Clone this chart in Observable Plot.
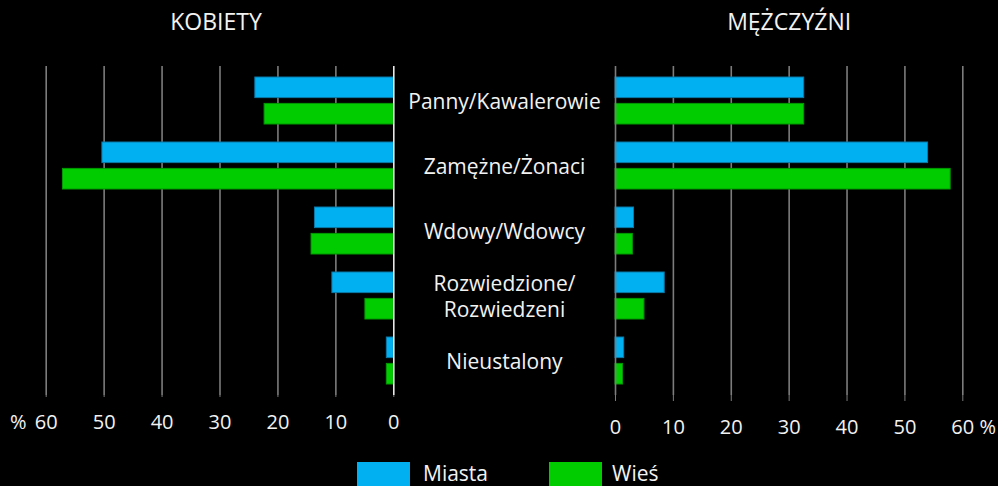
<!DOCTYPE html>
<html>
<head>
<meta charset="utf-8">
<script src="https://cdn.jsdelivr.net/npm/d3@7"></script>
<script src="https://cdn.jsdelivr.net/npm/@observablehq/plot@0.6"></script>
<style>
  html, body { margin: 0; padding: 0; background: #000; }
  #wrap { position: relative; width: 998px; height: 486px; background: #000; overflow: hidden; font-family: "Open Sans", sans-serif; }
  #wrap svg { position: absolute; left: 0; top: 0; }
  .legend { position: absolute; top: 462px; left: 0; width: 998px; height: 30px; }
  .sw { position: absolute; top: 0; width: 53px; height: 30px; }
  .lt { position: absolute; top: -2px; font-size: 21px; color: #f2f2f2; line-height: 26px; }
</style>
</head>
<body>
<div id="wrap"></div>
<script>
const categories = ["Panny/Kawalerowie", "Zamężne/Żonaci", "Wdowy/Wdowcy", "Rozwiedzione/\nRozwiedzeni", "Nieustalony"];
const seriesNames = ["Miasta", "Wieś"];
const seriesColors = ["#00b0f0", "#00cc00"];
const seriesStrokes = ["#0b79a8", "#009a00"];
const womenMiasta = [23.9, 50.3, 13.6, 10.6, 1.2];
const womenWies = [22.3, 57.1, 14.2, 4.9, 1.2];
const menMiasta = [32.6, 54.0, 3.2, 8.5, 1.5];
const menWies = [32.6, 57.9, 3.0, 5.0, 1.3];
const xTicks = [0, 10, 20, 30, 40, 50, 60];
const titles = ["KOBIETY", "MĘŻCZYŹNI"];

const FONT = "'Open Sans', sans-serif";
const W = 998, H = 440;

function rows(a, b) {
  return categories.flatMap((c, i) => [
    {category: c, series: seriesNames[0], value: a[i]},
    {category: c, series: seriesNames[1], value: b[i]}
  ]);
}

function panel(data, side) {
  const left = side === "left";
  const m = left
    ? {marginLeft: 45.7, marginRight: W - 393.3}
    : {marginLeft: 615, marginRight: W - 962.3};
  return Plot.plot({
    width: W, height: H, marginTop: 66, marginBottom: 45, ...m,
    style: {background: "transparent", color: "#f2f2f2", fontFamily: FONT, fontSize: "20px", overflow: "visible"},
    x: {domain: [0, 60], reverse: left, axis: null, label: null},
    y: {domain: categories, type: "band", padding: 0, axis: null, label: null},
    color: {domain: seriesNames, range: seriesColors},
    marks: [
      Plot.ruleX(xTicks.filter(d => d > 0), {stroke: "#7c7c7c", strokeWidth: 1.6}),
      Plot.barX(data.filter(d => d.series === seriesNames[0]), {
        x: "value", y: "category", fill: "series", stroke: seriesStrokes[0], strokeWidth: 1,
        insetTop: 9, insetBottom: 35.4
      }),
      Plot.barX(data.filter(d => d.series === seriesNames[1]), {
        x: "value", y: "category", fill: "series", stroke: seriesStrokes[1], strokeWidth: 1,
        insetTop: 35.4, insetBottom: 9
      }),
      Plot.ruleX([0], {stroke: left ? "#e8e8e8" : "#7c7c7c", strokeWidth: 1.6}),
      Plot.axisX({
        ticks: xTicks, tickSize: left ? 2 : 6, tickPadding: left ? 17 : 18, label: null,
        stroke: "#7c7c7c", fill: "#f2f2f2", fontSize: 20, tickFormat: d => String(d)
      }),
      Plot.text(["%"], {x: 60, frameAnchor: "bottom", dx: left ? -28 : 25, dy: left ? 27 : 32,
        fill: "#f2f2f2", fontSize: 20, lineAnchor: "middle"}),
      Plot.text([titles[left ? 0 : 1]], {x: 30, frameAnchor: "top", dx: left ? -4 : 0, dy: -44,
        fill: "#f2f2f2", fontSize: 23, lineAnchor: "middle"}),
      left ? Plot.text(categories, {x: 0, y: d => d, dx: 110.7, dy: 0, textAnchor: "middle",
        lineAnchor: "middle", lineHeight: 1.22, fill: "#f2f2f2", fontSize: 21}) : null
    ]
  });
}

const wrap = document.getElementById("wrap");
wrap.appendChild(panel(rows(womenMiasta, womenWies), "left"));
wrap.appendChild(panel(rows(menMiasta, menWies), "right"));

const legend = document.createElement("div");
legend.className = "legend";
const swX = [357, 549], txtX = [423, 612];
seriesNames.forEach((s, i) => {
  const sw = document.createElement("div");
  sw.className = "sw"; sw.style.left = swX[i] + "px"; sw.style.background = seriesColors[i];
  const t = document.createElement("div");
  t.className = "lt"; t.style.left = txtX[i] + "px"; t.textContent = s;
  legend.appendChild(sw); legend.appendChild(t);
});
wrap.appendChild(legend);
</script>
</body>
</html>
